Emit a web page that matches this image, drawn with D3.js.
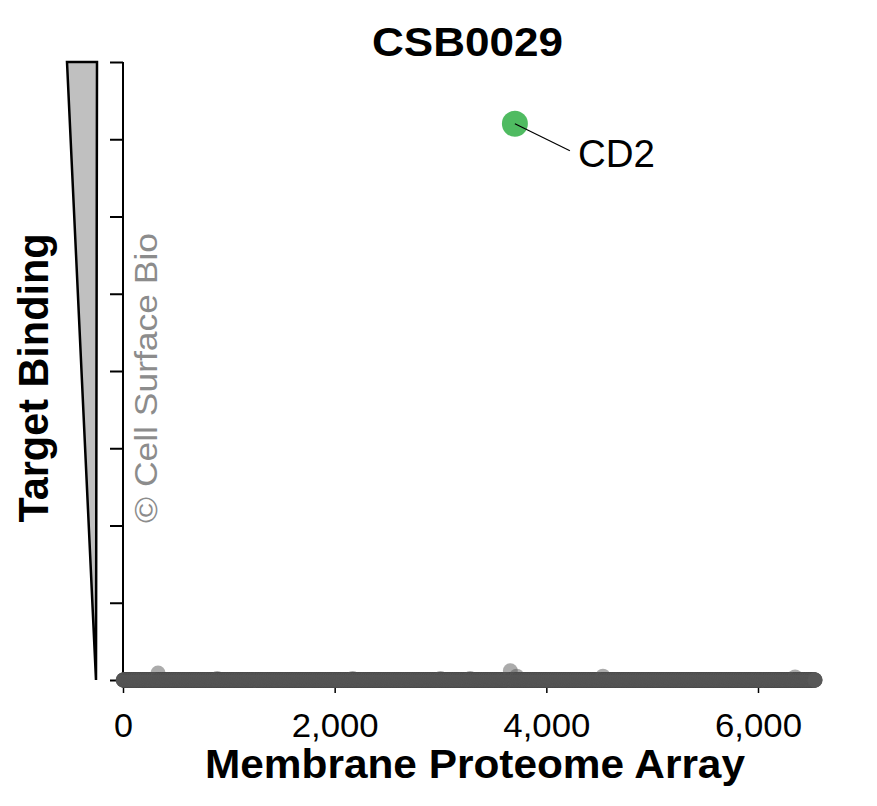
<!DOCTYPE html>
<html lang="en">
<head>
<meta charset="UTF-8">
<title>CSB0029</title>
<style>
  body { margin: 0; background: #fff; }
  text { font-family: "Liberation Sans", Arial, Helvetica, sans-serif; }
</style>
<script src="https://cdn.jsdelivr.net/npm/d3@7"></script>
</head>
<body>
<script>
// Chart values
var titleText = "CSB0029";
var proteinCount = 6540;                 // proteins on the array (x positions 1..N)
var hitIndex = [331, 890, 2170, 3000, 3280, 3660, 3720, 4535, 6350];
var hitValue = [0.09, 0.02, 0.02, 0.02, 0.02, 0.12, 0.05, 0.05, 0.04];
var targetName = ["CD2"];
var targetIndex = [3703];
var targetValue = [7.2];
var xTicks = [0, 2000, 4000, 6000];
var yTicks = [0, 1, 2, 3, 4, 5, 6, 7, 8];

// Size
var W = 877, H = 806;
var svg = d3.select("body").append("svg")
    .attr("width", W).attr("height", H);

var x = d3.scaleLinear().domain([0, 6000]).range([123, 758]);
var y = d3.scaleLinear().domain([0, 8]).range([680, 62]);

// helper: stretch text to a given width
function fit(sel, len) {
  sel.attr("textLength", len).attr("lengthAdjust", "spacingAndGlyphs");
}

// title
svg.append("text")
   .attr("x", 467.5).attr("y", 56)
   .attr("text-anchor", "middle")
   .style("font-size", "40px").style("font-weight", "bold")
   .text(titleText).call(fit, 191);

// triangle next to y axis
var triTop = y(8), triBot = y(0);
svg.append("path")
   .attr("d", "M67," + triTop + "L97," + triTop + "L96," + triBot + "Z")
   .attr("fill", "#c0c0c0").attr("stroke", "#000")
   .attr("stroke-width", 2.5).attr("stroke-linejoin", "miter");

// y axis (no labels)
var gy = svg.append("g")
   .attr("transform", "translate(123,0)")
   .call(d3.axisLeft(y).tickValues(yTicks).tickSize(13).tickFormat(""));
gy.selectAll("path, line").attr("stroke", "#000").attr("stroke-width", 2);
gy.select(".domain").attr("d", "M0," + y(8) + "V" + y(0));

// x axis: small ticks under the points, labels
var gx = svg.append("g")
   .attr("transform", "translate(0,685)")
   .call(d3.axisBottom(x).tickValues(xTicks).tickSize(8).tickFormat(d3.format(",")));
gx.select(".domain").remove();
gx.selectAll("line").attr("stroke", "#000").attr("stroke-width", 1.5);
gx.selectAll("text")
  .attr("y", 52).attr("dy", 0)
  .attr("fill", "#000")
  .style("font-size", "34px")
  .style("font-family", "'Liberation Sans', Arial, sans-serif")
  .each(function(d) { d3.select(this).call(fit, d === 0 ? 19 : 87); });

// watermark
svg.append("text")
   .attr("transform", "translate(157,378) rotate(-90)")
   .attr("text-anchor", "middle")
   .attr("fill", "#8c8c8c")
   .style("font-size", "31px")
   .text("\u00A9 Cell Surface Bio").call(fit, 290);

// points
var hitMap = new Map(hitIndex.map(function(d, i) { return [d, hitValue[i]]; }));
var pts = d3.range(1, proteinCount + 1).map(function(i) {
  return { i: i, v: hitMap.has(i) ? hitMap.get(i) : 0 };
});
svg.append("g").selectAll("circle")
   .data(pts).join("circle")
   .attr("cx", function(d) { return x(d.i); })
   .attr("cy", function(d) { return y(d.v); })
   .attr("r", 7.5)
   .attr("fill", "#585858")
   .attr("fill-opacity", 0.5);

// highlighted target
var tg = svg.append("g");
targetName.forEach(function(name, k) {
  var cx = x(targetIndex[k]), cy = y(targetValue[k]);
  tg.append("circle")
    .attr("cx", cx).attr("cy", cy).attr("r", 13)
    .attr("fill", "#3cb450").attr("fill-opacity", 0.9);
  tg.append("line")
    .attr("x1", cx).attr("y1", cy)
    .attr("x2", cx + 55).attr("y2", cy + 27)
    .attr("stroke", "#000").attr("stroke-width", 1.2);
  tg.append("text")
    .attr("x", cx + 63).attr("y", cy + 43)
    .style("font-size", "39px")
    .text(name).call(fit, 77);
});

// axis titles
svg.append("text")
   .attr("x", 475).attr("y", 778)
   .attr("text-anchor", "middle")
   .style("font-size", "40px").style("font-weight", "bold")
   .text("Membrane Proteome Array").call(fit, 540);

svg.append("text")
   .attr("transform", "translate(48,378) rotate(-90)")
   .attr("text-anchor", "middle")
   .style("font-size", "42px").style("font-weight", "bold")
   .text("Target Binding").call(fit, 289);
</script>
</body>
</html>
